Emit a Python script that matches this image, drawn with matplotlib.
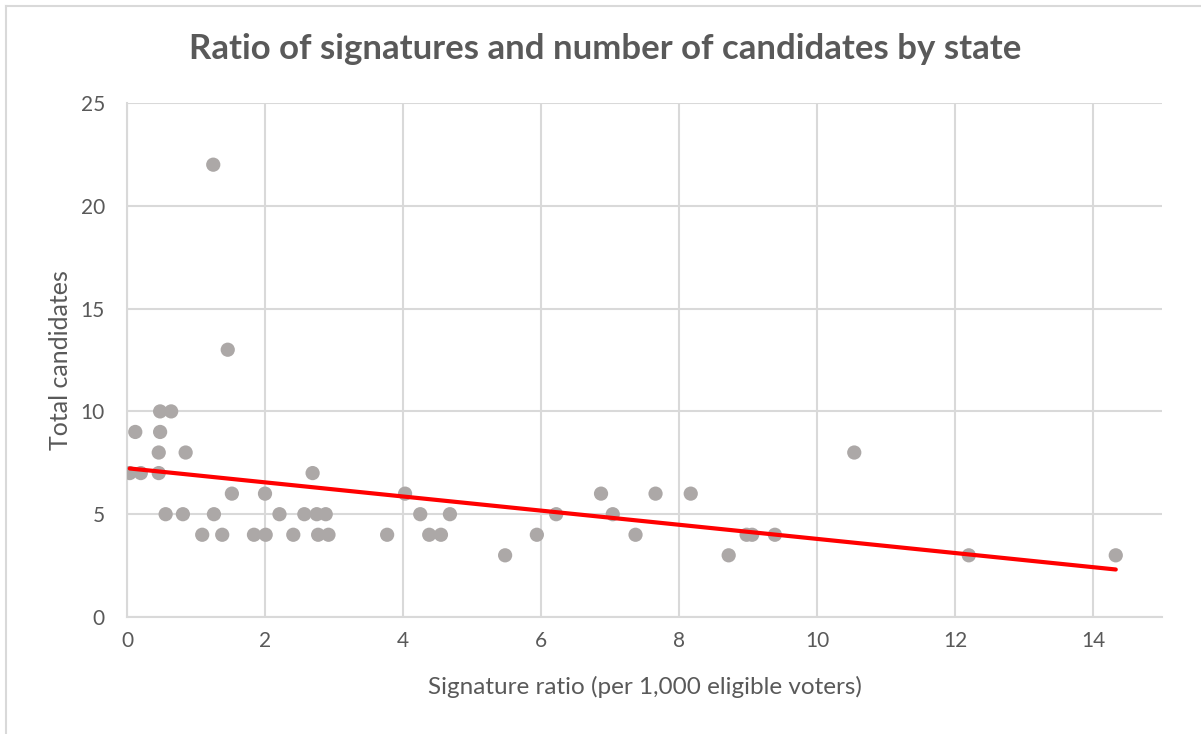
import numpy as np
import matplotlib
matplotlib.use("Agg")
import matplotlib.pyplot as plt
from matplotlib.lines import Line2D

# Signature ratio (per 1,000 eligible voters) and total candidates per state
signature_ratio = [
    0.04, 0.12, 0.20, 0.48, 0.64, 0.48, 0.46, 0.46, 0.56, 0.85,
    0.81, 1.25, 1.09, 1.26, 1.38, 1.46, 1.52, 1.84, 2.00, 2.01,
    2.21, 2.41, 2.57, 2.69, 2.75, 2.77, 2.88, 2.92, 3.77, 4.03,
    4.25, 4.38, 4.55, 4.68, 5.48, 5.94, 6.22, 6.87, 7.04, 7.37,
    7.66, 8.17, 8.72, 8.98, 9.06, 9.39, 10.54, 12.20, 14.33,
]
total_candidates = [
    7, 9, 7, 10, 10, 9, 8, 7, 5, 8,
    5, 22, 4, 5, 4, 13, 6, 4, 6, 4,
    5, 4, 5, 7, 5, 4, 5, 4, 4, 6,
    5, 4, 4, 5, 3, 4, 5, 6, 5, 4,
    6, 6, 3, 4, 4, 4, 8, 3, 3,
]
x_ticks = [0, 2, 4, 6, 8, 10, 12, 14]
y_ticks = [0, 5, 10, 15, 20, 25]

title = "Ratio of signatures and number of candidates by state"
x_label = "Signature ratio (per 1,000 eligible voters)"
y_label = "Total candidates"

FONT = "Lato"
TEXT = "#595959"
GRID = "#d9d9d9"
MARKER = "#aca8a7"

plt.rcParams["font.family"] = [FONT, "DejaVu Sans"]

W, H = 1201, 734
fig = plt.figure(figsize=(W / 100, H / 100), dpi=100)
fig.patch.set_facecolor("white")

# Chart-area frame (top and left edges visible)
fig.add_artist(Line2D([6 / W, 1.0], [1 - 5.5 / H, 1 - 5.5 / H], color=GRID, lw=1.5,
                      transform=fig.transFigure))
fig.add_artist(Line2D([6 / W, 6 / W], [0.0, 1 - 5.5 / H], color=GRID, lw=1.5,
                      transform=fig.transFigure))

left, right, top, bottom = 127, 1162, 103, 617
ax = fig.add_axes([left / W, 1 - bottom / H, (right - left) / W, (bottom - top) / H])

x = np.array(signature_ratio)
y = np.array(total_candidates)

ax.scatter(x, y, s=105, color=MARKER, edgecolors="none", zorder=3)

# Linear trend line over the range of the data
slope, intercept = np.polyfit(x, y, 1)
xs = np.array([x.min(), x.max()])
ax.plot(xs, slope * xs + intercept, color="#ff0000", lw=3.0, solid_capstyle="round", zorder=4)

ax.set_xlim(0, 15)
ax.set_ylim(0, 25)
ax.set_xticks(x_ticks)
ax.set_yticks(y_ticks)
ax.grid(True, color=GRID, lw=1.5, zorder=0)
ax.set_axisbelow(True)
for side in ["top", "right"]:
    ax.spines[side].set_visible(False)
for side in ["left", "bottom"]:
    ax.spines[side].set_color(GRID)
    ax.spines[side].set_linewidth(1.5)
ax.tick_params(axis="both", length=0, labelsize=15, labelcolor=TEXT)
ax.tick_params(axis="x", pad=10)
ax.tick_params(axis="y", pad=16)

ax.set_xlabel(x_label, fontsize=17.5, color=TEXT, labelpad=18)
ax.set_ylabel(y_label, fontsize=18, color=TEXT, labelpad=6)

fig.text(605 / W, 1 - 49 / H, title, fontsize=25, fontweight="bold", color=TEXT,
         ha="center", va="center")

fig.savefig("out.png", dpi=100, facecolor="white")
